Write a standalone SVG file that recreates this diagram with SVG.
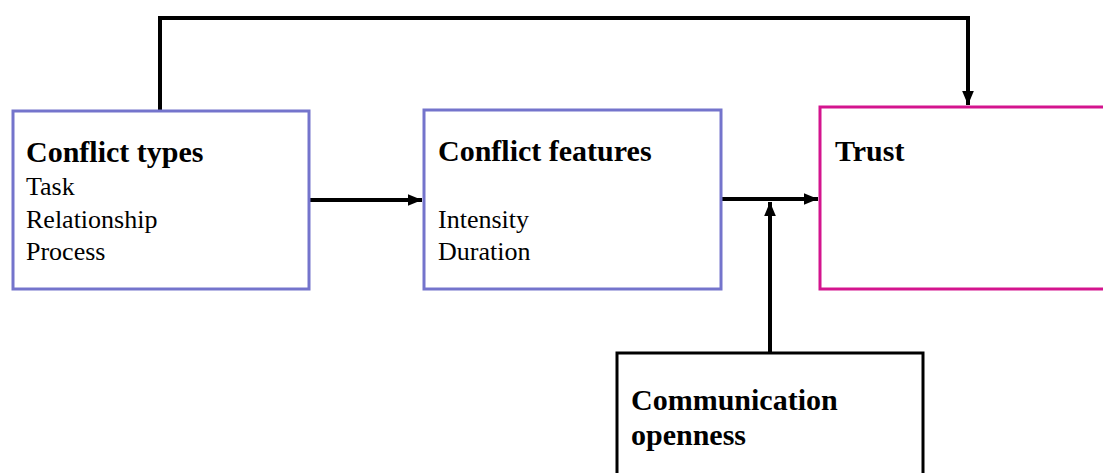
<svg xmlns="http://www.w3.org/2000/svg" width="1103" height="473" viewBox="0 0 1103 473">
  <defs>
    <marker id="arrow" viewBox="0 0 12 10" refX="12" refY="5" markerUnits="userSpaceOnUse" markerWidth="14" markerHeight="12" orient="auto">
      <path d="M0,0 L12,5 L0,10 Z" fill="#000"/>
    </marker>
  </defs>
  <style>
    .box { fill: #fff; stroke-width: 3; }
    .blue { stroke: #7474cc; }
    .pink { stroke: #d4148e; }
    .black { stroke: #000; }
    .title { font-family: "Liberation Serif", "Times New Roman", serif; font-weight: bold; font-size: 30px; fill: #000; }
    .item { font-family: "Liberation Serif", "Times New Roman", serif; font-size: 26px; fill: #000; }
    .conn { fill: none; stroke: #000; stroke-width: 4; }
  </style>
  <rect width="1103" height="473" fill="#fff"/>

  <g id="connectors">
    <path class="conn" d="M160,110 V18 H968 V105" marker-end="url(#arrow)"/>
    <path class="conn" d="M309,200 H422" marker-end="url(#arrow)"/>
    <path class="conn" d="M721,199 H818" marker-end="url(#arrow)"/>
    <path class="conn" d="M770,353 V202" marker-end="url(#arrow)"/>
  </g>

  <g id="conflict-types">
    <rect class="box blue" x="13" y="111" width="296" height="178"/>
    <text class="title" x="26" y="162">Conflict types</text>
    <text class="item" x="26" y="195">Task</text>
    <text class="item" x="26" y="228">Relationship</text>
    <text class="item" x="26" y="260">Process</text>
  </g>

  <g id="conflict-features">
    <rect class="box blue" x="424" y="110" width="297" height="179"/>
    <text class="title" x="438" y="161">Conflict features</text>
    <text class="item" x="438" y="228">Intensity</text>
    <text class="item" x="438" y="260">Duration</text>
  </g>

  <g id="trust">
    <rect class="box pink" x="820" y="107" width="300" height="182"/>
    <text class="title" x="835" y="161">Trust</text>
  </g>

  <g id="communication-openness">
    <rect class="box black" x="617" y="353" width="306" height="140"/>
    <text class="title" x="631" y="410">Communication</text>
    <text class="title" x="631" y="445">openness</text>
  </g>
</svg>
